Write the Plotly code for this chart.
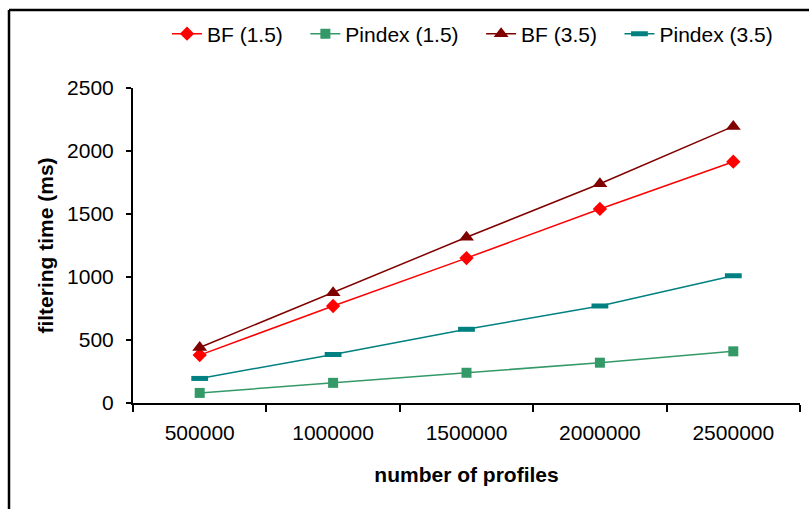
import plotly.graph_objects as go

categories = ["500000", "1000000", "1500000", "2000000", "2500000"]
bf_15 = [380, 770, 1150, 1540, 1915]
pindex_15 = [80, 160, 240, 320, 410]
bf_35 = [440, 875, 1315, 1740, 2195]
pindex_35 = [195, 385, 585, 770, 1010]
series_names = ["BF (1.5)", "Pindex (1.5)", "BF (3.5)", "Pindex (3.5)"]

W, H = 809, 509
ML, MR, MT, MB = 133, 9, 88, 106
PW, PH = W - ML - MR, H - MT - MB

FONT = "Liberation Sans, Arial, sans-serif"
PAD = "\u00a0\u00a0\u00a0"

fig = go.Figure()
fig.add_trace(go.Scatter(x=categories, y=bf_15, name=series_names[0] + PAD, mode="lines+markers",
                         line=dict(color="#FF0000", width=1.5),
                         marker=dict(symbol="diamond", size=11, color="#FF0000")))
fig.add_trace(go.Scatter(x=categories, y=pindex_15, name=series_names[1] + PAD, mode="lines+markers",
                         line=dict(color="#339966", width=1.5),
                         marker=dict(symbol="square", size=10, color="#339966")))
fig.add_trace(go.Scatter(x=categories, y=bf_35, name=series_names[2] + PAD, mode="lines+markers",
                         line=dict(color="#800000", width=1.5),
                         marker=dict(symbol="triangle-up", size=13, color="#800000")))
fig.add_trace(go.Scatter(x=categories, y=pindex_35, name=series_names[3], mode="lines+markers",
                         line=dict(color="#008080", width=1.5),
                         marker=dict(symbol="line-ew", size=12, color="#008080",
                                     line=dict(color="#008080", width=5))))
fig.update_traces(cliponaxis=False)

def px_to_paper_x(px):
    return (px - ML) / PW

def px_to_paper_y(py):
    return (H - MB - py) / PH

frame = dict(color="black", width=2.5)
fig.add_shape(type="line", xref="paper", yref="paper",
              x0=px_to_paper_x(9), x1=px_to_paper_x(9),
              y0=px_to_paper_y(10), y1=px_to_paper_y(530), line=frame)
fig.add_shape(type="line", xref="paper", yref="paper",
              x0=px_to_paper_x(9), x1=px_to_paper_x(830),
              y0=px_to_paper_y(10), y1=px_to_paper_y(10), line=frame)

fig.update_layout(
    width=W, height=H,
    margin=dict(l=ML, r=MR, t=MT, b=MB),
    paper_bgcolor="white", plot_bgcolor="white",
    font=dict(family=FONT, size=21, color="black"),
    showlegend=True,
    legend=dict(orientation="h", x=px_to_paper_x(ML + PW / 2 + 6), xanchor="center",
                y=px_to_paper_y(34), yanchor="middle",
                font=dict(size=21), traceorder="normal", itemwidth=30,
                bgcolor="rgba(0,0,0,0)"),
    xaxis=dict(type="category", range=[-0.5, 4.5], showline=True, linecolor="black", linewidth=2,
               ticks="outside", ticklen=7, tickwidth=2, tickcolor="black", tickson="boundaries",
               showgrid=False, zeroline=False, ticklabelstandoff=10,
               title=dict(text="<b>number of profiles</b>", standoff=24, font=dict(size=21))),
    yaxis=dict(range=[0, 2500], dtick=500, showline=True, linecolor="black", linewidth=2,
               ticks="outside", ticklen=5, tickwidth=2, tickcolor="black",
               showgrid=False, zeroline=False, ticklabelstandoff=8,
               title=dict(text="<b>filtering time (ms)</b>", standoff=8, font=dict(size=21))),
)

fig.write_html("out.html")
